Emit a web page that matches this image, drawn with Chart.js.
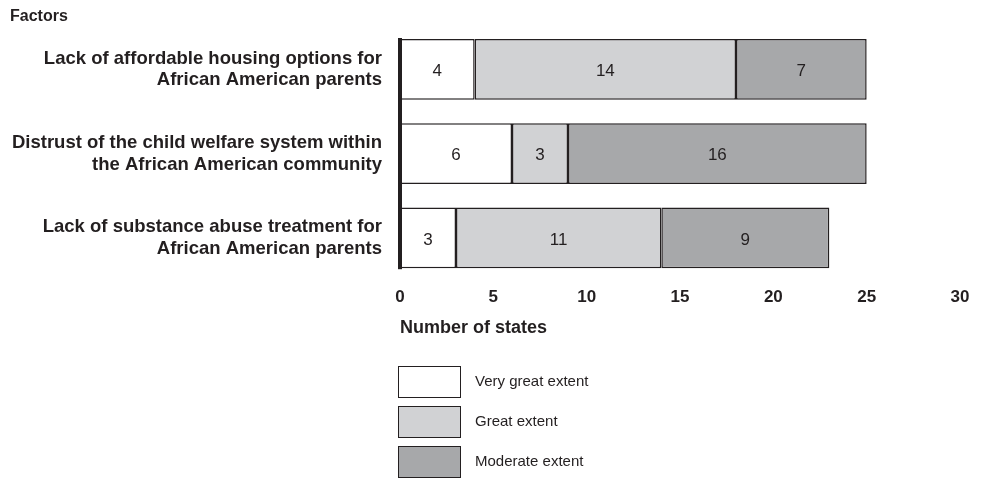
<!DOCTYPE html>
<html>
<head>
<meta charset="utf-8">
<script src="https://cdn.jsdelivr.net/npm/chart.js@4.4.1/dist/chart.umd.min.js"></script>
<style>
  html, body { margin: 0; padding: 0; background: #fff; }
  #wrap { width: 987px; height: 479px; position: relative; }
</style>
</head>
<body>
<div id="wrap"><canvas id="factorsChart"></canvas></div>
<script>
// data
const factors = [
  ['Lack of affordable housing options for', 'African American parents'],
  ['Distrust of the child welfare system within', 'the African American community'],
  ['Lack of substance abuse treatment for', 'African American parents']
];
const veryGreat = [4, 6, 3];
const great = [14, 3, 11];
const moderate = [7, 16, 9];
const xTicks = [0, 5, 10, 15, 20, 25, 30];

const ink = '#231f20';
const font = 'Arial, "Liberation Sans", Helvetica, sans-serif';

// bar value labels in the middle of each segment
const valueLabels = {
  id: 'valueLabels',
  afterDatasetsDraw(chart) {
    const ctx = chart.ctx;
    ctx.save();
    ctx.font = '17px ' + font;
    ctx.fillStyle = ink;
    ctx.textAlign = 'center';
    ctx.textBaseline = 'middle';
    chart.data.datasets.forEach(function (ds, i) {
      chart.getDatasetMeta(i).data.forEach(function (bar, j) {
        const p = bar.getCenterPoint();
        ctx.fillText(ds.data[j], p.x, p.y + 2);
      });
    });
    ctx.restore();
  }
};

// thick left axis only as tall as the bars
const leftAxis = {
  id: 'leftAxis',
  afterDatasetsDraw(chart) {
    const bars = chart.getDatasetMeta(0).data;
    const first = bars[0], last = bars[bars.length - 1];
    const x = chart.scales.x.getPixelForValue(0);
    const ctx = chart.ctx;
    ctx.save();
    ctx.strokeStyle = ink;
    ctx.lineWidth = 4;
    ctx.beginPath();
    ctx.moveTo(x, first.y - first.height / 2 - 1);
    ctx.lineTo(x, last.y + last.height / 2 + 1);
    ctx.stroke();
    ctx.restore();
  }
};

// legend stacked below the axis title
const stackedLegend = {
  id: 'stackedLegend',
  afterDraw(chart) {
    const ctx = chart.ctx;
    const left = chart.scales.x.left - 2;
    let top = 366;
    ctx.save();
    chart.data.datasets.forEach(function (ds) {
      ctx.fillStyle = ds.backgroundColor;
      ctx.fillRect(left, top, 63, 32);
      ctx.strokeStyle = ink;
      ctx.lineWidth = 1;
      ctx.strokeRect(left + 0.5, top + 0.5, 62, 31);
      ctx.fillStyle = ink;
      ctx.font = '15px ' + font;
      ctx.textAlign = 'left';
      ctx.textBaseline = 'middle';
      ctx.fillText(ds.label, left + 77, top + 16);
      top += 40;
    });
    ctx.restore();
  }
};

new Chart(document.getElementById('factorsChart'), {
  type: 'bar',
  data: {
    labels: factors,
    datasets: [
      { label: 'Very great extent', data: veryGreat, backgroundColor: '#ffffff' },
      { label: 'Great extent', data: great, backgroundColor: '#d1d2d4' },
      { label: 'Moderate extent', data: moderate, backgroundColor: '#a7a8aa' }
    ]
  },
  options: {
    indexAxis: 'y',
    responsive: true,
    maintainAspectRatio: false,
    animation: false,
    datasets: {
      bar: {
        borderColor: ink,
        borderWidth: 1.5,
        borderSkipped: false,
        categoryPercentage: 1,
        barPercentage: 0.72
      }
    },
    layout: {
      padding: { left: 10, right: 27, top: 0, bottom: 140 }
    },
    plugins: {
      legend: { display: false },
      tooltip: { enabled: false },
      title: {
        display: true,
        text: 'Factors',
        align: 'start',
        color: ink,
        font: { family: font, size: 16, weight: 'bold' },
        padding: { top: 7, bottom: 1 }
      }
    },
    scales: {
      x: {
        stacked: true,
        min: 0,
        max: 30,
        afterBuildTicks: function (axis) {
          axis.ticks = xTicks.map(function (v) { return { value: v }; });
        },
        grid: { display: false, drawTicks: false },
        border: { display: false },
        ticks: {
          color: ink,
          padding: 7,
          font: { family: font, size: 17, weight: 'bold' }
        },
        title: {
          display: true,
          text: 'Number of states',
          align: 'start',
          color: ink,
          font: { family: font, size: 18, weight: 'bold' },
          padding: { top: 3, bottom: 0 }
        }
      },
      y: {
        stacked: true,
        afterFit: function (axis) {
          axis.width = 390;
          axis.paddingTop = 0;
          axis.paddingBottom = 0;
        },
        grid: { display: false, drawTicks: false },
        border: { display: false },
        ticks: {
          color: ink,
          padding: 18,
          font: { family: font, size: 18.5, weight: 'bold', lineHeight: 1.17 }
        }
      }
    }
  },
  plugins: [valueLabels, leftAxis, stackedLegend]
});
</script>
</body>
</html>
